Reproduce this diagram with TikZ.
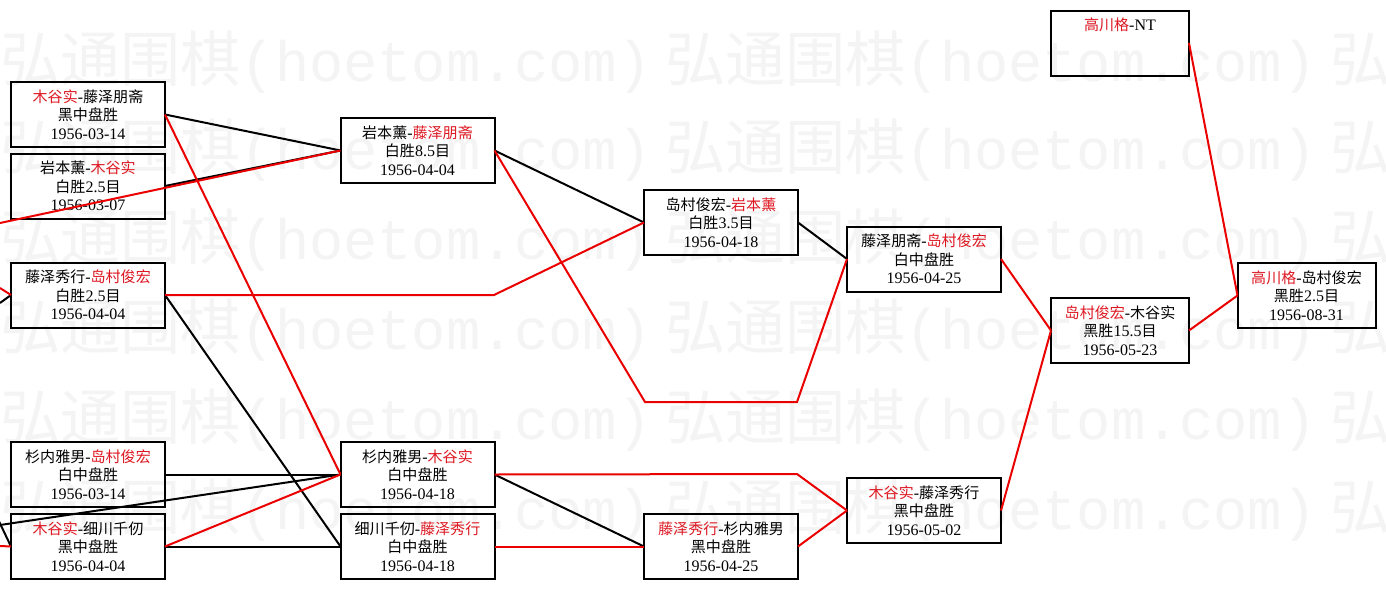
\documentclass[tikz,border=0pt]{standalone}
\usepackage{fontspec}
\setmainfont{Liberation Serif}
\newfontfamily\cjk[Scale=0.94]{Noto Sans CJK SC}
\newfontfamily\wmono{Liberation Mono}
\definecolor{wred}{RGB}{222,24,34}
\definecolor{lred}{RGB}{235,0,0}
\definecolor{wmark}{RGB}{244,244,244}
\newcommand\Cj[1]{{\cjk #1}}
\newcommand\Rd[1]{\textcolor{wred}{\cjk #1}}
\tikzset{
  game/.style={draw=black, line width=2pt, minimum width=154pt, minimum height=65pt,
    inner sep=0pt, outer sep=0pt, align=center, text=black,
    font=\fontsize{16}{18.5}\selectfont},
  narrow/.style={minimum width=138pt},
  bl/.style={draw=black, line width=2pt},
  rd/.style={draw=lred, line width=2pt},
  wm/.style={anchor=west, inner sep=0pt, text=wmark}
}
\begin{document}
\begin{tikzpicture}[x=1pt,y=-1pt]
\useasboundingbox[fill=white] (0,0) rectangle (1386,589);
\clip (0,0) rectangle (1386,589);
% watermark
\foreach \yy [count=\i] in {62,150,240,330,420,510}{
  \foreach \xx [count=\j] in {0,665,1330}{
    \node[wm] (wm\i-\j) at (\xx,\yy) {{\fontsize{64}{64}\selectfont\cjk 弘通围棋}{\fontsize{57}{57}\selectfont\wmono(hoetom.com)}};
  }
}
% boxes
\node[game] (B1) at (88,114.5) {\Rd{木谷实}-\Cj{藤泽朋斋}\\\Cj{黑中盘胜}\\1956-03-14};
\node[game] (B2) at (88,186) {\Cj{岩本薰}-\Rd{木谷实}\\\Cj{白胜}2.5\Cj{目}\\1956-03-07};
\node[game] (B3) at (88,295) {\Cj{藤泽秀行}-\Rd{岛村俊宏}\\\Cj{白胜}2.5\Cj{目}\\1956-04-04};
\node[game] (B4) at (88,474.5) {\Cj{杉内雅男}-\Rd{岛村俊宏}\\\Cj{白中盘胜}\\1956-03-14};
\node[game] (B5) at (88,546.5) {\Rd{木谷实}-\Cj{细川千仞}\\\Cj{黑中盘胜}\\1956-04-04};
\node[game] (C1) at (417.5,150.5) {\Cj{岩本薰}-\Rd{藤泽朋斋}\\\Cj{白胜}8.5\Cj{目}\\1956-04-04};
\node[game] (C2) at (417.5,474.5) {\Cj{杉内雅男}-\Rd{木谷实}\\\Cj{白中盘胜}\\1956-04-18};
\node[game] (C3) at (417.5,546.5) {\Cj{细川千仞}-\Rd{藤泽秀行}\\\Cj{白中盘胜}\\1956-04-18};
\node[game] (D1) at (721,222.5) {\Cj{岛村俊宏}-\Rd{岩本薰}\\\Cj{白胜}3.5\Cj{目}\\1956-04-18};
\node[game] (D2) at (721,546.5) {\Rd{藤泽秀行}-\Cj{杉内雅男}\\\Cj{黑中盘胜}\\1956-04-25};
\node[game] (E1) at (924,259) {\Cj{藤泽朋斋}-\Rd{岛村俊宏}\\\Cj{白中盘胜}\\1956-04-25};
\node[game] (E2) at (924,510.5) {\Rd{木谷实}-\Cj{藤泽秀行}\\\Cj{黑中盘胜}\\1956-05-02};
\node[game,narrow] (F1) at (1120,330.5) {\Rd{岛村俊宏}-\Cj{木谷实}\\\Cj{黑胜}15.5\Cj{目}\\1956-05-23};
\node[game,narrow] (F0) at (1120,43) {\Rd{高川格}-NT\\ \\ };
\node[game,narrow] (G) at (1306.5,295.5) {\Rd{高川格}-\Cj{岛村俊宏}\\\Cj{黑胜}2.5\Cj{目}\\1956-08-31};
% helper coordinates
\coordinate (k1) at (494,295);
\coordinate (k2) at (645,402);
\coordinate (k3) at (797,402);
\coordinate (k4) at (797,474);
\coordinate (l1) at (0,223);
\coordinate (l2) at (0,288);
\coordinate (l3) at (0,303);
\coordinate (l4) at (0,525);
\coordinate (l5) at (-4,515);
\coordinate (l6) at (0,546);
% black connectors
\draw[bl] (B1.east) -- (C1.west);
\draw[bl] (B2.east) -- (C1.west);
\draw[bl] (B3.east) -- (C3.west);
\draw[bl] (l3) -- (B3.west);
\draw[bl] (B4.east) -- (C2.west);
\draw[bl] (l4) -- (C2.west);
\draw[bl] (l5) -- (B5.west);
\draw[bl] (B5.east) -- (C3.west);
\draw[bl] (C1.east) -- (D1.west);
\draw[bl] (C2.east) -- (D2.west);
\draw[bl] (D1.east) -- (E1.west);
% red connectors
\draw[rd] (l1) -- (C1.west);
\draw[rd] (B1.east) -- (C2.west);
\draw[rd] (B3.east) -- (k1) -- (D1.west);
\draw[rd] (l2) -- (B3.west);
\draw[rd] (l6) -- (B5.west);
\draw[rd] (B5.east) -- (C2.west);
\draw[rd] (C1.east) -- (k2) -- (k3) -- (E1.west);
\draw[rd] (C2.east) -- (k4) -- (E2.west);
\draw[rd] (C3.east) -- (D2.west);
\draw[rd] (D2.east) -- (E2.west);
\draw[rd] (E1.east) -- (F1.west);
\draw[rd] (E2.east) -- (F1.west);
\draw[rd] (F1.east) -- (G.west);
\draw[rd] (F0.east) -- (G.west);
\end{tikzpicture}
\end{document}
